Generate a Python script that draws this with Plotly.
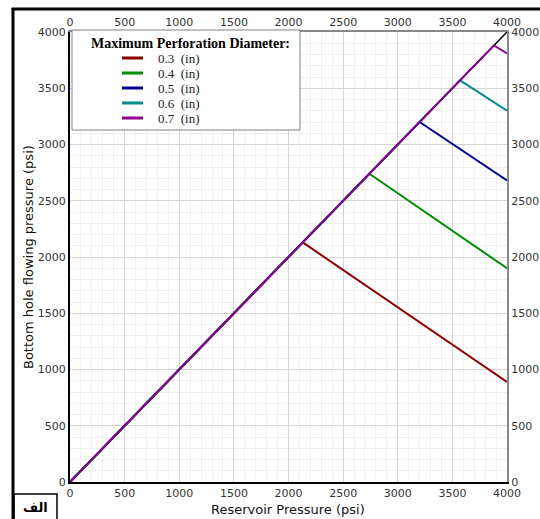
import plotly.graph_objects as go

# Perforation diameters and their curves (psi)
diameters = ["0.3", "0.4", "0.5", "0.6", "0.7"]
colors = ["#8c0000", "#008c00", "#00008c", "#008c8c", "#8c008c"]
peak_pressure = [2130, 2740, 3200, 3570, 3880]   # where each curve leaves the diagonal
end_pwf = [890, 1900, 2680, 3300, 3810]          # flowing pressure at 4000 psi reservoir
reservoir_max = 4000
tick_vals = [0, 500, 1000, 1500, 2000, 2500, 3000, 3500, 4000]

W, H = 540, 519
L, R, T, B = 70, 33, 32, 37
PW, PH = W - L - R, H - T - B


def px(x):
    return (x - L) / PW


def py(y):
    return (H - B - y) / PH


fig = go.Figure()

# reference diagonal Pwf = Pr
fig.add_trace(go.Scatter(x=[0, reservoir_max], y=[0, reservoir_max], mode="lines",
                         line=dict(color="black", width=1.5), showlegend=False,
                         hoverinfo="skip"))

for d, c, p, e in zip(diameters, colors, peak_pressure, end_pwf):
    fig.add_trace(go.Scatter(x=[0, p, reservoir_max], y=[0, p, e], mode="lines",
                             line=dict(color=c, width=2), name=f"{d}  (in)",
                             showlegend=False))

# empty trace so the mirrored top/right axes carry labels
fig.add_trace(go.Scatter(x=[None], y=[None], xaxis="x2", yaxis="y2",
                         showlegend=False, hoverinfo="skip"))

tick_font = dict(family="DejaVu Sans, Verdana, sans-serif", size=11, color="#333333")
title_font = dict(family="DejaVu Sans, Verdana, sans-serif", size=13, color="#111111")
common = dict(range=[0, reservoir_max], tickvals=tick_vals, ticks="", tickfont=tick_font,
              zeroline=False, fixedrange=True, automargin=False)

fig.update_layout(
    width=W, height=H, margin=dict(l=L, r=R, t=T, b=B),
    paper_bgcolor="white", plot_bgcolor="white",
    xaxis=dict(**common, showline=True, linecolor="black", linewidth=2,
               showgrid=True, gridcolor="#d4d4d4", gridwidth=1,
               minor=dict(dtick=100, showgrid=True, gridcolor="#efefef", gridwidth=1)),
    yaxis=dict(**common, showline=True, linecolor="black", linewidth=2,
               showgrid=True, gridcolor="#d4d4d4", gridwidth=1,
               minor=dict(dtick=100, showgrid=True, gridcolor="#efefef", gridwidth=1)),
    xaxis2=dict(**common, overlaying="x", side="top", anchor="y2", showgrid=False,
                showline=True, linecolor="#888888", linewidth=2),
    yaxis2=dict(**common, overlaying="y", side="right", anchor="x2", showgrid=False,
                showline=True, linecolor="#888888", linewidth=2),
)

shapes = []
annotations = []

# axis titles
annotations.append(dict(xref="paper", yref="paper", x=px(288), y=py(509),
                        text="Reservoir Pressure (psi)", showarrow=False,
                        xanchor="center", yanchor="middle", font=title_font))
annotations.append(dict(xref="paper", yref="paper", x=px(28), y=py(257),
                        text="Bottom hole flowing pressure (psi)", showarrow=False,
                        textangle=-90, xanchor="center", yanchor="middle", font=title_font))

# outer frame (left and top edges)
shapes.append(dict(type="line", xref="paper", yref="paper", x0=px(13), x1=px(13),
                   y0=py(8), y1=py(H + 5), line=dict(color="black", width=3)))
shapes.append(dict(type="line", xref="paper", yref="paper", x0=px(11.5), x1=px(W + 5),
                   y0=py(9), y1=py(9), line=dict(color="black", width=3)))

# label box in the corner
shapes.append(dict(type="rect", xref="paper", yref="paper", x0=px(14), x1=px(57),
                   y0=py(494), y1=py(H + 5), line=dict(color="black", width=1.5)))
annotations.append(dict(xref="paper", yref="paper", x=px(35), y=py(507), text="<b>الف</b>",
                        showarrow=False, xanchor="center", yanchor="middle",
                        font=dict(family="DejaVu Sans", size=13, color="black")))

# legend box
shapes.append(dict(type="rect", xref="paper", yref="paper", x0=px(72), x1=px(300),
                   y0=py(130), y1=py(30), fillcolor="white", layer="above",
                   line=dict(color="#808080", width=1)))
annotations.append(dict(xref="paper", yref="paper", x=px(190), y=py(43),
                        text="<b>Maximum Perforation Diameter:</b>", showarrow=False,
                        xanchor="center", yanchor="middle",
                        font=dict(family="Liberation Serif, Times New Roman, serif",
                                  size=14, color="black")))
for i, (d, c) in enumerate(zip(diameters, colors)):
    yy = 58 + 15 * i
    shapes.append(dict(type="line", xref="paper", yref="paper", x0=px(122), x1=px(143),
                       y0=py(yy), y1=py(yy), layer="above", line=dict(color=c, width=3)))
    annotations.append(dict(xref="paper", yref="paper", x=px(156), y=py(yy),
                            text=f"{d}  (in)", showarrow=False, xanchor="left",
                            yanchor="middle",
                            font=dict(family="Liberation Serif, Times New Roman, serif",
                                      size=13, color="#222222")))

fig.update_layout(shapes=shapes, annotations=annotations)
fig.write_html("out.html")
